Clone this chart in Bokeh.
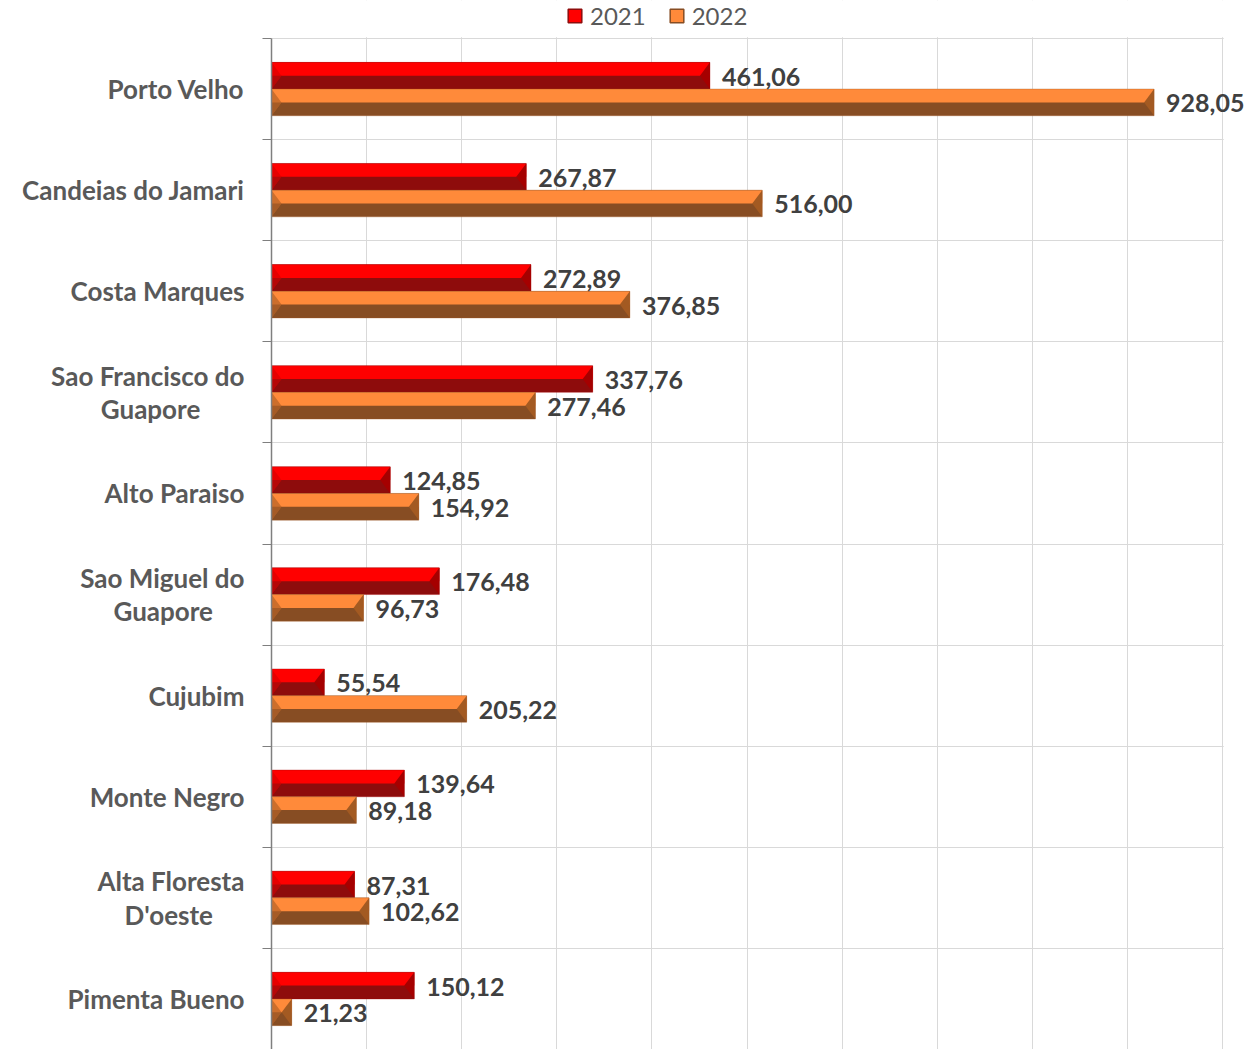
from bokeh.plotting import figure
from bokeh.models import (Range1d, FixedTicker, ColumnDataSource, LabelSet,
                          Legend, LegendItem)
from bokeh.core.properties import value
from bokeh.embed import file_html
from bokeh.resources import INLINE

# ---- data ----
categories = ["Porto Velho", "Candeias do Jamari", "Costa Marques",
              "Sao Francisco do\nGuapore", "Alto Paraiso",
              "Sao Miguel do\nGuapore", "Cujubim", "Monte Negro",
              "Alta Floresta\nD'oeste", "Pimenta Bueno"]
values_2021 = [461.06, 267.87, 272.89, 337.76, 124.85, 176.48, 55.54, 139.64, 87.31, 150.12]
values_2022 = [928.05, 516.00, 376.85, 277.46, 154.92, 96.73, 205.22, 89.18, 102.62, 21.23]
series_names = ["2021", "2022"]
x_gridlines = [100, 200, 300, 400, 500, 600, 700, 800, 900, 1000]

FONT = "Lato"
NB = "\u00a0"


def centered(label, pad):
    # axis labels are right-aligned: pad the short second line so it looks centred
    if "\n" not in label:
        return label
    a, b = label.split("\n")
    return a + "\n" + b + NB * pad


pads = {"Sao Francisco do\nGuapore": 7, "Sao Miguel do\nGuapore": 5,
        "Alta Floresta\nD'oeste": 5}

n = len(categories)
centers = [n - 0.5 - i for i in range(n)]
boundaries = [float(i) for i in range(1, n + 1)]

W, H = 1250, 1049
LEFT, TOP = 271, 38
px_per_unit = 0.951
row_px = 101.1
XMAX = (W - LEFT) / px_per_unit
YMIN = n - (H - TOP) / row_px
YMAX = n + TOP / row_px
BAR_H = 0.264
BEVEL = 10.0 / px_per_unit

p = figure(width=W, height=H, output_backend="svg", toolbar_location=None,
           x_range=Range1d(0, XMAX), y_range=Range1d(YMIN, YMAX),
           min_border_left=LEFT, min_border_right=0, min_border_top=0,
           min_border_bottom=0)
p.outline_line_color = None
p.background_fill_color = "white"
p.border_fill_color = "white"

# keep grid lines inside the plotting area (right of x=1000 and above the top row)
p.quad(left=[x_gridlines[-1] + 1.2 / px_per_unit], right=[XMAX], bottom=[YMIN], top=[YMAX],
       fill_color="white", line_color=None)
p.quad(left=[0], right=[XMAX], bottom=[n + 1.2 / row_px], top=[YMAX],
       fill_color="white", line_color=None)

palettes = {
    "2021": dict(top="#FF0000", bot="#8E0C0C", left="#E60000", right="#A50000"),
    "2022": dict(top="#FF8A3A", bot="#874D23", left="#CC6E2C", right="#A35A22"),
}

legend_items = []
for name, vals, sign in [("2021", values_2021, 1), ("2022", values_2022, -1)]:
    col = palettes[name]
    ys = [c + sign * BAR_H / 2 for c in centers]
    bot_edge = [y - BAR_H / 2 for y in ys]
    top_edge = [y + BAR_H / 2 for y in ys]
    mids = ys
    src = ColumnDataSource(dict(y=ys, v=vals,
                                ytop=[y + BAR_H / 4 for y in ys],
                                label=[f"{v:.2f}".replace(".", ",") for v in vals]))
    p.hbar(y="y", right="v", left=0, height=BAR_H, source=src,
           fill_color=col["bot"], line_color=None)
    p.hbar(y="ytop", right="v", left=0, height=BAR_H / 2, source=src,
           fill_color=col["top"], line_color=None)
    bw = [min(BEVEL, v / 2) for v in vals]
    p.patches([[0, b, 0] for b in bw],
              [[t, m, bo] for t, m, bo in zip(top_edge, mids, bot_edge)],
              fill_color=col["left"], line_color=None)
    p.patches([[0, b, 0] for b in bw], [[m, m, bo] for m, bo in zip(mids, bot_edge)],
              fill_color=col["bot"], line_color=None, fill_alpha=0.55)
    p.patches([[v, v - b, v] for v, b in zip(vals, bw)],
              [[t, m, bo] for t, m, bo in zip(top_edge, mids, bot_edge)],
              fill_color=col["right"], line_color=None)
    p.hbar(y="y", right="v", left=0, height=BAR_H, source=src,
           fill_color=None, line_color=col["right"], line_alpha=0.35, line_width=1)
    labels = LabelSet(x="v", y="y", text="label", source=src, x_offset=12, y_offset=-1,
                      text_font=value(FONT), text_font_style="bold",
                      text_font_size="25px", text_color="#404040",
                      text_baseline="middle", text_align="left")
    p.add_layout(labels)
    dummy = p.hbar(y=[0], right=[0], height=0, fill_color=col["top"],
                   line_color=col["bot"], line_width=1.5)
    legend_items.append(LegendItem(label=name, renderers=[dummy]))

legend = Legend(items=legend_items, orientation="horizontal", location=(295, H - 30),
                label_text_font=FONT, label_text_font_size="24px",
                label_text_color="#595959", glyph_width=17, glyph_height=17,
                label_standoff=7, spacing=22, padding=0, margin=0,
                label_height=24, border_line_color=None, background_fill_alpha=0)
p.add_layout(legend, "center")

# axes
p.xaxis.visible = False
yax = p.yaxis[0]
yax.bounds = (0, n)
yax.ticker = FixedTicker(ticks=centers, minor_ticks=boundaries)
yax.major_label_overrides = {c: centered(lab, pads.get(lab, 0))
                             for c, lab in zip(centers, categories)}
yax.major_tick_out = 0
yax.major_tick_in = 0
yax.minor_tick_out = 9
yax.minor_tick_in = 0
yax.minor_tick_line_color = "#7F7F7F"
yax.axis_line_color = "#7F7F7F"
yax.axis_line_width = 1.5
yax.major_label_standoff = 18
yax.major_label_text_font = FONT
yax.major_label_text_font_style = "bold"
yax.major_label_text_font_size = "26px"
yax.major_label_text_line_height = 1.05
yax.major_label_text_color = "#595959"

p.ygrid.grid_line_color = None
p.ygrid.minor_grid_line_color = "#D9D9D9"
p.ygrid.minor_grid_line_width = 1
p.xgrid.ticker = FixedTicker(ticks=x_gridlines)
p.xgrid.grid_line_color = "#D9D9D9"
p.xgrid.grid_line_width = 1

open("out.html", "w").write(file_html(p, INLINE))
